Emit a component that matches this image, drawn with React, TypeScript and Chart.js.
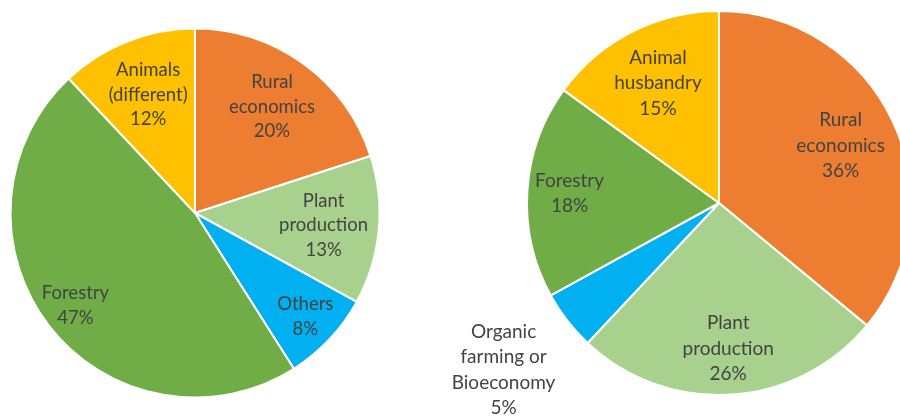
import React, { useEffect, useRef } from "react";
import { Chart, registerables } from "chart.js";

Chart.register(...registerables);

// ---- data ----
const LEFT_CATEGORIES = ["Rural\neconomics", "Plant\nproduction", "Others", "Forestry", "Animals\n(different)"];
const LEFT_VALUES = [20, 13, 8, 47, 12];

const RIGHT_CATEGORIES = ["Rural\neconomics", "Plant\nproduction", "Organic\nfarming or\nBioeconomy", "Forestry", "Animal\nhusbandry"];
const RIGHT_VALUES = [36, 26, 5, 18, 15];

// ---- style ----
const LEFT_COLORS = ["#ED7D31", "#A9D18E", "#00B0F0", "#70AD47", "#FFC000"];
const RIGHT_COLORS = ["#ED7D31", "#A9D18E", "#00B0F0", "#70AD47", "#FFC000"];
// radial placement of labels, as a fraction of the pie radius
const LEFT_LABEL_R = [0.71, 0.7, 0.82, 0.82, 0.69];
const RIGHT_LABEL_R = [0.7, 0.76, 1.42, 0.78, 0.7];
const TEXT_COLOR = "#434343";
const FONT_FAMILY = "Lato, 'Open Sans', sans-serif";

const labelPlugin = {
  id: "sliceLabels",
  afterDraw(chart: any) {
    const opts = chart.options.plugins.sliceLabels;
    const { ctx } = chart;
    const meta = chart.getDatasetMeta(0);
    const cats: string[] = chart.data.labels;
    const vals: number[] = chart.data.datasets[0].data;
    ctx.save();
    ctx.fillStyle = TEXT_COLOR;
    ctx.font = `${opts.fontSize}px ${FONT_FAMILY}`;
    ctx.textAlign = "center";
    ctx.textBaseline = "middle";
    meta.data.forEach((arc: any, i: number) => {
      const p = arc.getProps(["x", "y", "startAngle", "endAngle", "outerRadius"], true);
      const mid = (p.startAngle + p.endAngle) / 2;
      const r = p.outerRadius * opts.radii[i];
      const cx = p.x + Math.cos(mid) * r;
      const cy = p.y + Math.sin(mid) * r;
      const lines = cats[i].split("\n").concat([`${vals[i]}%`]);
      const lh = opts.lineHeight;
      const top = cy - ((lines.length - 1) * lh) / 2;
      lines.forEach((ln, k) => ctx.fillText(ln, cx, top + k * lh));
    });
    ctx.restore();
  },
};

function PieCanvas(props: {
  labels: string[];
  values: number[];
  colors: string[];
  radii: number[];
  width: number;
  height: number;
  padding: { left: number; top: number; right: number; bottom: number };
  fontSize: number;
  lineHeight: number;
}) {
  const ref = useRef<HTMLCanvasElement>(null);
  useEffect(() => {
    if (!ref.current) return;
    const chart = new Chart(ref.current, {
      type: "pie",
      data: {
        labels: props.labels,
        datasets: [
          {
            data: props.values,
            backgroundColor: props.colors,
            borderColor: "#ffffff",
            borderWidth: 2,
          },
        ],
      },
      options: {
        responsive: false,
        animation: false,
        layout: { padding: props.padding },
        plugins: {
          legend: { display: false },
          tooltip: { enabled: false },
          sliceLabels: { radii: props.radii, fontSize: props.fontSize, lineHeight: props.lineHeight },
        } as any,
      },
      plugins: [labelPlugin],
    });
    return () => chart.destroy();
  }, []);
  return (
    <canvas
      ref={ref}
      width={props.width}
      height={props.height}
      style={{ position: "absolute", left: 0, top: 0, width: props.width, height: props.height }}
    />
  );
}

export default function App() {
  return (
    <div
      style={{
        position: "fixed",
        left: 0,
        top: 0,
        width: 900,
        height: 416,
        overflow: "hidden",
        background: "#ffffff",
      }}
    >
      <PieCanvas
        labels={LEFT_CATEGORIES}
        values={LEFT_VALUES}
        colors={LEFT_COLORS}
        radii={LEFT_LABEL_R}
        width={940}
        height={416}
        padding={{ left: 9.5, top: 27.5, right: 940 - 380.5, bottom: 416 - 398.5 }}
        fontSize={18.5}
        lineHeight={24.5}
      />
      <PieCanvas
        labels={RIGHT_CATEGORIES}
        values={RIGHT_VALUES}
        colors={RIGHT_COLORS}
        radii={RIGHT_LABEL_R}
        width={940}
        height={416}
        padding={{ left: 526, top: 10, right: 940 - 912, bottom: 416 - 396 }}
        fontSize={19}
        lineHeight={25.5}
      />
    </div>
  );
}
